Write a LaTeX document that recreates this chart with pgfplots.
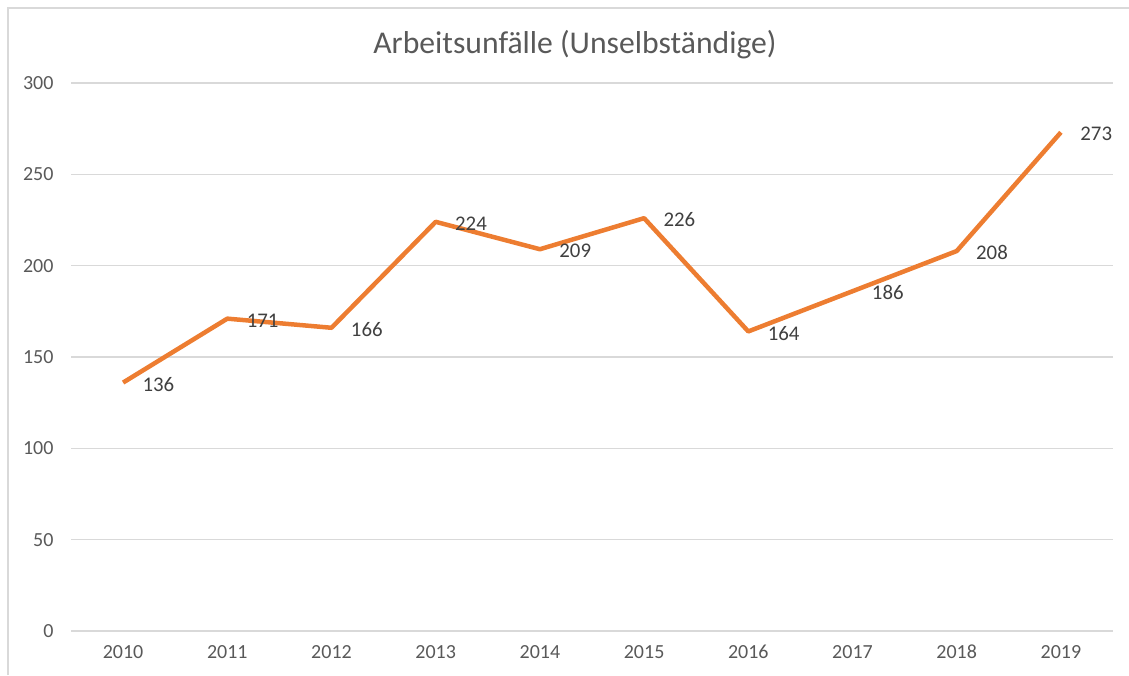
\documentclass[border=0pt]{standalone}
\usepackage{pgfplots}
\pgfplotsset{compat=1.18}
\usepackage{fontspec}
\setmainfont{Carlito}
\definecolor{lineor}{HTML}{ED7D31}
\definecolor{gridc}{HTML}{D9D9D9}
\definecolor{txt}{HTML}{595959}
\definecolor{lbl}{HTML}{404040}
\begin{document}
\begin{tikzpicture}
\path[use as bounding box] (-42.6pt,-26.4pt) rectangle (634.8pt,378.6pt);
\draw[gridc, line width=1pt] (-37.8pt,-26.4pt) -- (-37.8pt,373.8pt) -- (634.8pt,373.8pt);
\begin{axis}[
  at={(0,0)}, anchor=south west,
  scale only axis, width=625.2pt, height=328.8pt,
  xmin=-0.5, xmax=9.5, ymin=0, ymax=300,
  xtick={0,...,9},
  xticklabels={2010,2011,2012,2013,2014,2015,2016,2017,2018,2019},
  ytick={0,50,...,300},
  axis line style={draw=none},
  major tick length=0pt,
  ymajorgrids, grid style={gridc, line width=0.9pt},
  tick label style={font=\fontsize{12}{14}\selectfont, text=txt},
  /pgf/number format/assume math mode=true,
  yticklabel style={xshift=-7pt},
  xticklabel style={yshift=-5pt},
  clip=false,
  nodes near coords,
  nodes near coords style={font=\fontsize{12.5}{14}\selectfont, text=lbl, anchor=west, xshift=7pt, yshift=-1pt},
]
\addplot[lineor, line width=2.7pt, mark=none, line join=round] coordinates {
(0,136) (1,171) (2,166) (3,224) (4,209) (5,226) (6,164) (7,186) (8,208) (9,273)
};
\end{axis}
\node[text=txt, font=\fontsize{19}{22}\selectfont] at (302.4pt,351.6pt) {Arbeitsunfälle (Unselbständige)};
\end{tikzpicture}
\end{document}
